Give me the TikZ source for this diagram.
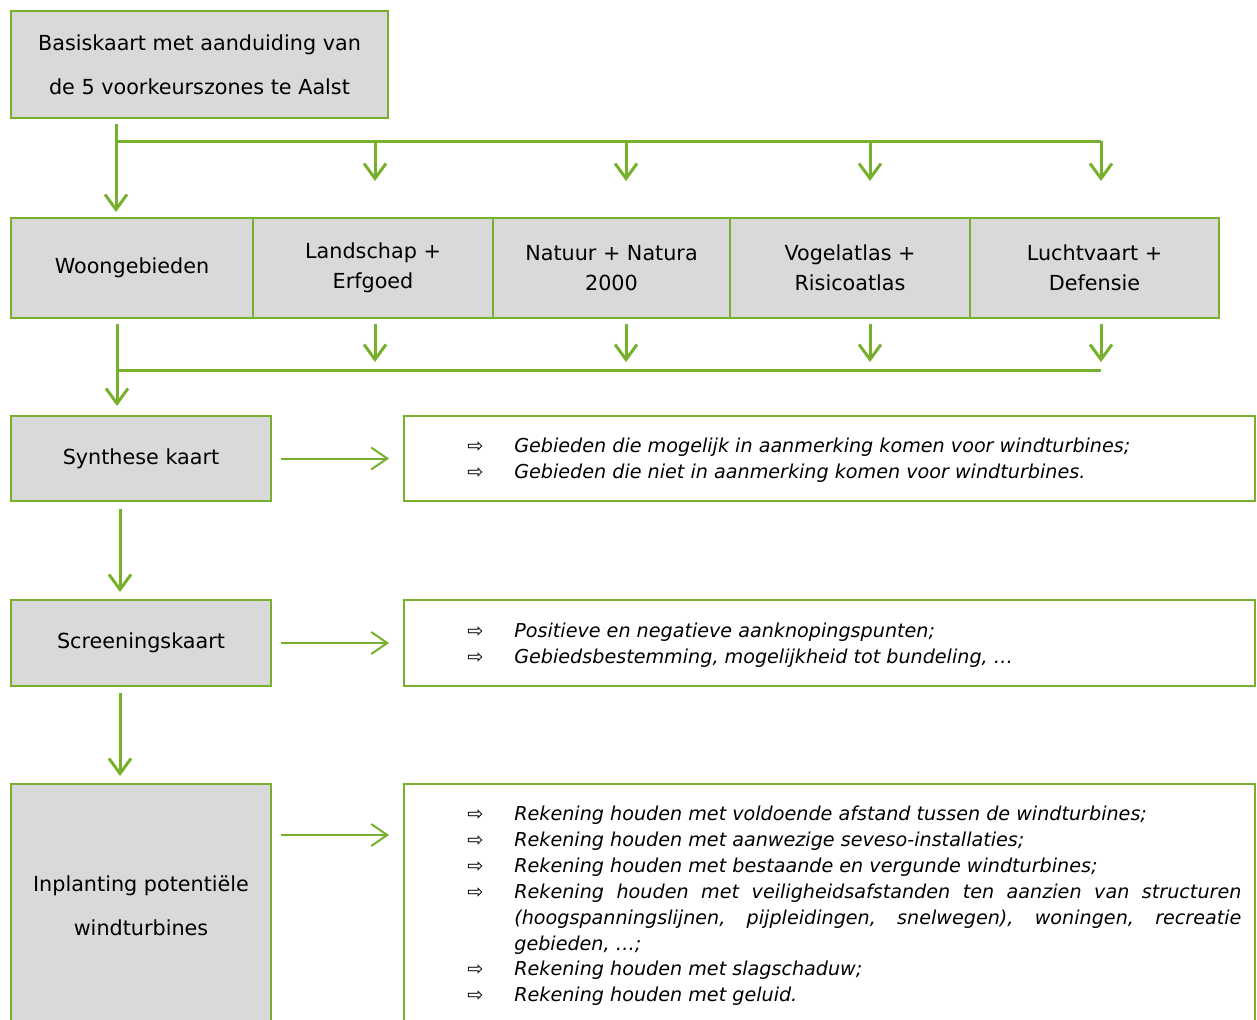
\documentclass[tikz,border=0pt]{standalone}
\usepackage{fontspec}
\setmainfont{DejaVu Sans}
\usetikzlibrary{
    arrows.meta,
    positioning,
    calc
}

\definecolor{kaartgreen}{RGB}{119,176,44}
\definecolor{kaartgray}{RGB}{217,217,217}
\newlength{\pxu}
\setlength{\pxu}{0.02cm}

\newcommand{\pijl}[1]{\hangindent=47\pxu\hangafter=1\noindent
    \makebox[47\pxu][l]{\upshape ⇨}#1\par}

\tikzset{
    stage/.style={draw=kaartgreen, fill=kaartgray, line width=2\pxu,
        inner sep=0pt, align=center},
    note/.style={draw=kaartgreen, line width=2\pxu, inner sep=0pt,
        minimum width=851\pxu},
    bullets/.style={anchor=north west, inner sep=0pt, text width=774\pxu,
        align=justify, font=\fontsize{10.9}{14.7}\selectfont\itshape},
    bus/.style={kaartgreen, line width=0.06cm},
    flow/.style={bus, -{Straight Barb[length=0.3cm, width=0.44cm]}},
    side/.style={kaartgreen, line width=0.04cm,
        -{Straight Barb[length=0.32cm, width=0.44cm]}}
}

\begin{document}
\begin{tikzpicture}[x=0.02cm,y=-0.02cm]

\useasboundingbox (0,0) rectangle (1257,1019);
\clip (0,0) rectangle (1257,1019);

% Base map
\node[stage, minimum width=377\pxu, minimum height=107\pxu,
      font=\fontsize{11.8}{24.9}\selectfont] (basis) at (199.5,64.5)
      {Basiskaart met aanduiding van\\de 5 voorkeurszones te Aalst};

% Themes
\node[stage, minimum width=242\pxu, minimum height=100\pxu,
      font=\fontsize{11.8}{17}\selectfont] (zone1) at (132,268) {Woongebieden};
\node[stage, minimum width=240\pxu, minimum height=100\pxu,
      font=\fontsize{11.8}{17}\selectfont] (zone2) at (373,268) {Landschap +\\Erfgoed};
\node[stage, minimum width=237\pxu, minimum height=100\pxu,
      font=\fontsize{11.8}{17}\selectfont] (zone3) at (611.5,268) {Natuur + Natura\\2000};
\node[stage, minimum width=240\pxu, minimum height=100\pxu,
      font=\fontsize{11.8}{17}\selectfont] (zone4) at (850,268) {Vogelatlas +\\Risicoatlas};
\node[stage, minimum width=249\pxu, minimum height=100\pxu,
      font=\fontsize{11.8}{17}\selectfont] (zone5) at (1094.5,268) {Luchtvaart +\\Defensie};

% Steps
\node[stage, minimum width=260\pxu, minimum height=85\pxu,
      font=\fontsize{11.8}{17}\selectfont] (synth) at (141,458.5) {Synthese kaart};
\node[stage, minimum width=260\pxu, minimum height=86\pxu,
      font=\fontsize{11.8}{17}\selectfont] (screen) at (141,643) {Screeningskaart};
\node[stage, minimum width=260\pxu, minimum height=244\pxu,
      font=\fontsize{11.8}{24.9}\selectfont] (inpl) at (141,906)
      {Inplanting potentiële\\windturbines};

% Notes
\node[note, minimum height=85\pxu] (note1) at (829.5,458.5) {};
\node[note, minimum height=86\pxu] (note2) at (829.5,643) {};
\node[note, minimum height=244\pxu] (note3) at (829.5,906) {};

\node[bullets] (list1) at (467,438) {%
\pijl{Gebieden die mogelijk in aanmerking komen voor windturbines;}
\pijl{Gebieden die niet in aanmerking komen voor windturbines.}};
\node[bullets] (list2) at (467,623) {%
\pijl{Positieve en negatieve aanknopingspunten;}
\pijl{Gebiedsbestemming, mogelijkheid tot bundeling, …}};
\node[bullets] (list3) at (467,806) {%
\pijl{Rekening houden met voldoende afstand tussen de windturbines;}
\pijl{Rekening houden met aanwezige seveso-installaties;}
\pijl{Rekening houden met bestaande en vergunde windturbines;}
\pijl{Rekening houden met veiligheidsafstanden ten aanzien van structuren\linebreak
(hoogspanningslijnen, pijpleidingen, snelwegen), woningen, recreatie\linebreak
gebieden, …;}
\pijl{Rekening houden met slagschaduw;}
\pijl{Rekening houden met geluid.}};

% Split and merge points
\coordinate (trunk) at (116,141);
\coordinate (merge) at (117,370);
\coordinate (spine) at (120,0);
\foreach \i/\x in {2/375,3/626,4/870,5/1101}{
    \coordinate (b\i) at (\x,0);
}

% Base map to themes
\draw[flow, shorten <=5\pxu, shorten >=5\pxu] (basis.south -| trunk) -- (zone1.north -| trunk);
\draw[bus] (trunk) -- (trunk -| b5);
\foreach \i in {2,...,5}{
    \draw[flow, shorten >=36\pxu] (trunk -| b\i) -- (zone\i.north -| b\i);
}

% Themes to synthesis
\foreach \i in {2,...,5}{
    \draw[flow, shorten <=5\pxu, shorten >=8\pxu] (zone\i.south -| b\i) -- (merge -| b\i);
}
\draw[flow, shorten <=5\pxu, shorten >=9\pxu] (zone1.south -| merge) -- (synth.north -| merge);
\draw[bus] (merge) -- (merge -| b5);

% Down the steps
\draw[flow, shorten <=7\pxu, shorten >=7\pxu] (synth.south -| spine) -- (screen.north -| spine);
\draw[flow, shorten <=6\pxu, shorten >=7\pxu] (screen.south -| spine) -- (inpl.north -| spine);

% Steps to notes
\draw[side, shorten <=9\pxu, shorten >=14\pxu] (synth.east) -- (note1.west);
\draw[side, shorten <=9\pxu, shorten >=14\pxu] (screen.east) -- (note2.west);
\draw[side, shorten <=9\pxu, shorten >=14\pxu]
    ($(inpl.north east)+(0,52)$) -- ($(note3.north west)+(0,52)$);

\end{tikzpicture}
\end{document}
